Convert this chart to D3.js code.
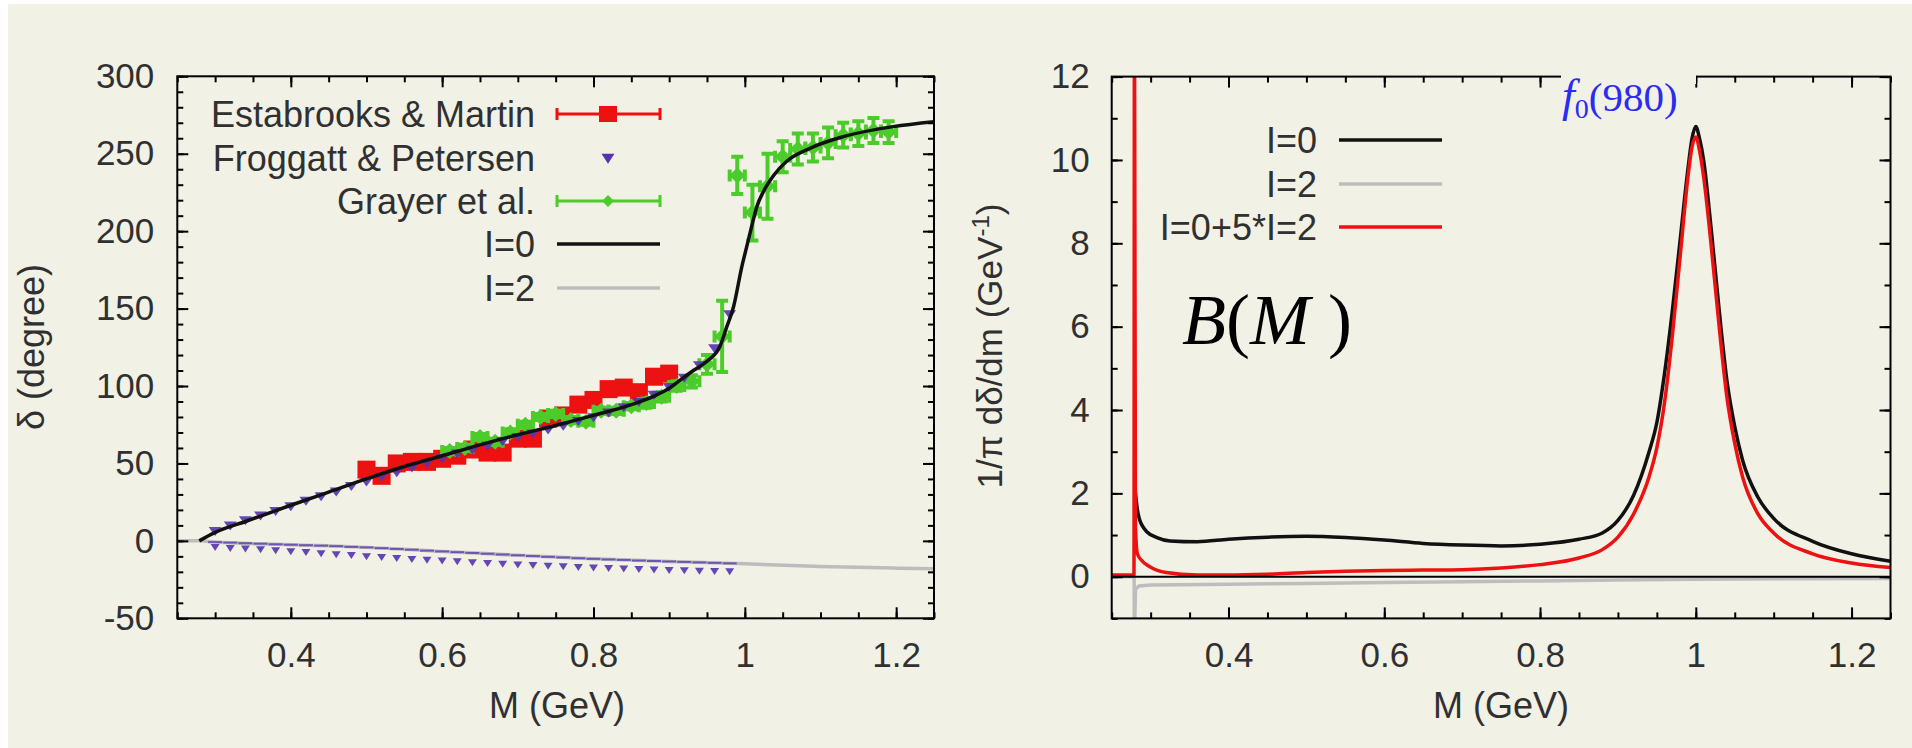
<!DOCTYPE html>
<html><head><meta charset="utf-8">
<script src="https://cdn.jsdelivr.net/npm/d3@7"></script>
<style>body{margin:0;background:#fff;overflow:hidden}</style>
</head><body>
<svg id="c" width="1912" height="748"></svg>
<script>
// ---------------- LEFT PANEL DATA (phase shift, degrees) ----------------
const xTicksMajor = [0.4, 0.6, 0.8, 1, 1.2];
const leftYTicks = [-50, 0, 50, 100, 150, 200, 250, 300];
const rightYTicks = [0, 2, 4, 6, 8, 10, 12];

// I=0 model curve
const i0Mass  = [0.279,0.30,0.34,0.40,0.45,0.50,0.55,0.60,0.65,0.70,0.75,0.80,0.85,0.88,0.90,0.915,0.932,0.95,0.967,0.976,0.985,0.996,1.0025,1.009,1.016,1.0245,1.038,1.055,1.086,1.13,1.196,1.25];
const i0Delta = [0,5.5,12.5,23,31.5,40,48,55,62,68.5,74.5,81,88,93.5,98.5,104,110,116,125.5,138,151,177,190,203,216,225.5,236,245,253.5,261,267.5,270.7];
// I=2 model curve
const i2Mass  = [0.25,0.279,0.30,0.35,0.40,0.45,0.50,0.60,0.70,0.80,0.90,1.00,1.10,1.20,1.25];
const i2Delta = [0,0,-0.8,-1.8,-2.5,-3.2,-4.2,-6.8,-9.3,-11.6,-13.3,-14.8,-16.6,-17.6,-18];

// Estabrooks & Martin
const emMass  = [0.50,0.52,0.54,0.56,0.58,0.60,0.62,0.64,0.66,0.68,0.70,0.72,0.74,0.76,0.78,0.80,0.82,0.84,0.86,0.88,0.90];
const emDelta = [46,42,50,51,51,53,55,59,57,57,66,66,79,81,88,91,98,99,96,106,108];

// Froggatt & Petersen
const fpMass    = [0.30,0.32,0.34,0.36,0.38,0.40,0.42,0.44,0.46,0.48,0.50,0.52,0.54,0.56,0.58,0.60,0.62,0.64,0.66,0.68,0.70,0.72,0.74,0.76,0.78,0.80,0.82,0.84,0.86,0.88,0.90,0.92,0.94,0.96,0.98];
const fpDeltaI0 = [7,10.5,14,17,20,23,26.5,29.5,32.5,36,39,42,45,48,51,54,57,59.5,62,65,67.5,70,72.5,75,78,80.5,83.5,87,90.5,95,100,106,114,125,147];
const fpDeltaI2 = [-3.5,-4.2,-4.5,-5.0,-5.7,-6.2,-6.8,-7.5,-8.2,-8.7,-9.5,-10,-10.6,-11.2,-11.7,-12.3,-12.8,-13.3,-13.8,-14.3,-14.8,-15.2,-15.6,-16,-16.4,-16.8,-17.1,-17.4,-17.7,-18,-18.3,-18.6,-18.8,-19,-19.2];
const fpI2Upper = [-0.8,-1.1,-1.5,-1.8,-2.2,-2.5,-2.8,-3.1,-3.4,-3.9,-4.2,-4.7,-5.2,-5.7,-6.3,-6.8,-7.3,-7.8,-8.3,-8.8,-9.3,-9.8,-10.3,-10.7,-11.2,-11.6,-12,-12.3,-12.7,-13,-13.3,-13.6,-13.9,-14.2,-14.5];

// Grayer et al.
const grMass  = [0.61,0.63,0.65,0.67,0.69,0.71,0.73,0.75,0.77,0.79,0.81,0.83,0.85,0.87,0.89,0.91,0.93,0.95,0.97,0.99,1.01,1.03,1.05,1.07,1.09,1.11,1.13,1.15,1.17,1.19];
const grDelta = [58,60,67,64,70,75,80,82,78,77,84,84,87,89,93,100,103,114,132,236,212,229,248,253,254,257,262,263,265,264];
const grErr   = [2,2,2,2,2,2,2,2,2,2,2,2,2,3,3,3,4,6,23,12,18,21,10,10,9,10,8,8,8,7];

// ---------------- RIGHT PANEL DATA (1/pi d delta/dm) ----------------
const bI0Mass = [0.2795,0.283,0.286,0.29,0.295,0.308,0.325,0.36,0.40,0.45,0.50,0.55,0.60,0.65,0.70,0.75,0.80,0.85,0.88,0.90,0.92,0.94,0.95,0.96,0.97,0.98,0.99,0.995,1.0,1.005,1.01,1.02,1.03,1.04,1.05,1.06,1.08,1.10,1.15,1.20,1.25];
const bI0Val  = [2.2,1.6,1.36,1.2,1.08,0.94,0.86,0.84,0.9,0.95,0.97,0.94,0.88,0.8,0.76,0.74,0.78,0.9,1.05,1.35,1.95,3.0,3.7,4.9,6.4,8.1,9.8,10.5,10.8,10.5,10.0,8.3,6.4,4.7,3.6,2.8,1.9,1.4,0.85,0.55,0.37];
const bI2Mass = [0.25,0.2788,0.2792,0.2805,0.285,0.30,0.40,0.50,0.60,0.70,0.80,0.90,1.00,1.10,1.25];
const bI2Val  = [0,0,-1.5,-0.3,-0.22,-0.2,-0.18,-0.16,-0.14,-0.12,-0.1,-0.08,-0.06,-0.05,-0.04];
const bMixMass = [0.25,0.2786,0.2792,0.2805,0.283,0.288,0.299,0.32,0.36,0.40,0.45,0.50,0.55,0.60,0.65,0.70,0.75,0.80,0.85,0.88,0.90,0.92,0.94,0.95,0.96,0.97,0.98,0.99,0.995,1.0,1.005,1.01,1.02,1.03,1.04,1.05,1.06,1.08,1.10,1.15,1.20,1.25];
const bMixVal  = [0.04,0.04,14,1.2,0.55,0.4,0.24,0.1,0.04,0.04,0.06,0.1,0.13,0.15,0.16,0.17,0.21,0.29,0.45,0.65,0.95,1.5,2.4,3.1,4.2,5.8,7.7,9.6,10.3,10.55,10.2,9.6,7.9,6.0,4.3,3.2,2.4,1.5,1.05,0.55,0.33,0.22];

// ---------------- DRAWING ----------------
const BG = "#f1f1e5", TXT = "#303030";
const FONT = "'Liberation Sans', Arial, Helvetica, sans-serif";
const SERIF = "'Liberation Serif', 'Times New Roman', serif";
const RED = "#ee1111", GREEN = "#4ccc2a", PURPLE = "#5533b0", GRAY = "#bdbdbd", BLACK = "#111";

const svg = d3.select("#c");
svg.append("rect").attr("x", 8).attr("y", 4).attr("width", 1904).attr("height", 744).attr("fill", BG);

const pairs = (xs, ys) => xs.map((x, i) => [x, ys[i]]);
const range = (a, b, s) => { const r = []; for (let v = a; v <= b + 1e-9; v += s) r.push(+v.toFixed(4)); return r; };

function drawFrame(g, x, y, xMinor, yMajor, yMinor, yPad) {
  const [x0, x1] = x.range(), [y0, y1] = y.range();
  const style = sel => {
    sel.select(".domain").remove();
    sel.selectAll(".tick line").attr("stroke", "#000").attr("stroke-width", 2);
    sel.selectAll("text").attr("font-family", FONT).attr("font-size", 35).attr("fill", TXT);
  };
  const fmt = d => String(d);
  g.append("g").attr("transform", `translate(0,${y0})`).call(d3.axisBottom(x).tickValues(xMinor).tickSize(-6).tickFormat("")).call(style);
  g.append("g").attr("transform", `translate(0,${y1})`).call(d3.axisTop(x).tickValues(xMinor).tickSize(-6).tickFormat("")).call(style);
  g.append("g").attr("transform", `translate(${x0},0)`).call(d3.axisLeft(y).tickValues(yMinor).tickSize(-6).tickFormat("")).call(style);
  g.append("g").attr("transform", `translate(${x1},0)`).call(d3.axisRight(y).tickValues(yMinor).tickSize(-6).tickFormat("")).call(style);
  g.append("g").attr("transform", `translate(0,${y0})`).call(d3.axisBottom(x).tickValues(xTicksMajor).tickSize(-11).tickPadding(23.5).tickFormat(fmt)).call(style);
  g.append("g").attr("transform", `translate(0,${y1})`).call(d3.axisTop(x).tickValues(xTicksMajor).tickSize(-11).tickFormat("")).call(style);
  g.append("g").attr("transform", `translate(${x0},0)`).call(d3.axisLeft(y).tickValues(yMajor).tickSize(-11).tickPadding(yPad).tickFormat(fmt)).call(style);
  g.append("g").attr("transform", `translate(${x1},0)`).call(d3.axisRight(y).tickValues(yMajor).tickSize(-11).tickFormat("")).call(style);
  g.append("rect").attr("x", x0).attr("y", y1).attr("width", x1 - x0).attr("height", y0 - y1)
    .attr("fill", "none").attr("stroke", "#000").attr("stroke-width", 2);
}

function clipFor(id, x, y) {
  const [x0, x1] = x.range(), [y0, y1] = y.range();
  svg.append("defs").append("clipPath").attr("id", id).append("rect")
    .attr("x", x0).attr("y", y1).attr("width", x1 - x0).attr("height", y0 - y1);
}

const triDown = (cx, cy, w, h) => `M${cx - w / 2},${cy - h / 3}L${cx + w / 2},${cy - h / 3}L${cx},${cy + 2 * h / 3}Z`;

// ======== LEFT PANEL ========
const xL = d3.scaleLinear().domain([0.25, 1.25]).range([177.3, 934]);
const yL = d3.scaleLinear().domain([-50, 300]).range([618.3, 76.3]);
clipFor("clipL", xL, yL);
const gL = svg.append("g");
const pL = gL.append("g").attr("clip-path", "url(#clipL)");
const lineL = d3.line().x(d => xL(d[0])).y(d => yL(d[1])).curve(d3.curveMonotoneX);

pL.append("path").attr("d", lineL(pairs(i2Mass, i2Delta))).attr("fill", "none").attr("stroke", GRAY).attr("stroke-width", 3.5);
const fpI2 = fpMass.map((m, i) => ({ m, d: fpDeltaI2[i], u: fpI2Upper[i] }));
pL.append("g").selectAll("path.ub").data(fpI2).join("path")
  .attr("d", p => `M${xL(p.m) - 7},${yL(p.u)}H${xL(p.m) + 7}`)
  .attr("stroke", PURPLE).attr("stroke-width", 2).attr("opacity", 0.75);
pL.append("g").selectAll("path.t2").data(fpI2).join("path")
  .attr("d", p => triDown(xL(p.m), yL(p.d), 9, 7)).attr("fill", PURPLE).attr("opacity", 0.9);

// Estabrooks & Martin
const em = emMass.map((m, i) => ({ m, d: emDelta[i] }));
const gEM = pL.append("g");
gEM.selectAll("path").data(em).join("path")
  .attr("d", p => `M${xL(p.m - 0.01)},${yL(p.d)}H${xL(p.m + 0.01)}`).attr("stroke", RED).attr("stroke-width", 3);
gEM.selectAll("rect").data(em).join("rect")
  .attr("x", p => xL(p.m) - 9).attr("y", p => yL(p.d) - 9).attr("width", 18).attr("height", 18).attr("fill", RED);

// Grayer et al.
const gr = grMass.map((m, i) => ({ m, d: grDelta[i], e: grErr[i] }));
const gGR = pL.append("g").attr("stroke", GREEN).attr("stroke-width", 4).attr("fill", "none");
gGR.selectAll("path.v").data(gr).join("path")
  .attr("d", p => `M${xL(p.m)},${yL(p.d - p.e)}V${yL(p.d + p.e)}M${xL(p.m) - 6},${yL(p.d - p.e)}H${xL(p.m) + 6}M${xL(p.m) - 6},${yL(p.d + p.e)}H${xL(p.m) + 6}`);
gGR.selectAll("path.h").data(gr).join("path")
  .attr("d", p => `M${xL(p.m - 0.01)},${yL(p.d)}H${xL(p.m + 0.01)}M${xL(p.m - 0.01)},${yL(p.d) - 6}V${yL(p.d) + 6}M${xL(p.m + 0.01)},${yL(p.d) - 6}V${yL(p.d) + 6}`);
pL.append("g").selectAll("path").data(gr).join("path")
  .attr("d", p => { const cx = xL(p.m), cy = yL(p.d); return `M${cx},${cy - 8}L${cx + 8},${cy}L${cx},${cy + 8}L${cx - 8},${cy}Z`; })
  .attr("fill", GREEN);

// F&P I=0 points
pL.append("g").selectAll("path").data(fpMass.map((m, i) => ({ m, d: fpDeltaI0[i] }))).join("path")
  .attr("d", p => triDown(xL(p.m), yL(p.d), 13, 9)).attr("fill", PURPLE).attr("opacity", 0.9);

pL.append("path").attr("d", lineL(pairs(i0Mass, i0Delta))).attr("fill", "none").attr("stroke", BLACK).attr("stroke-width", 3.5);

drawFrame(gL, xL, yL, range(0.25, 1.25, 0.05), leftYTicks, range(-50, 300, 10), 23);

const txt = (x, y, s, size, extra) => {
  const t = svg.append("text").attr("x", x).attr("y", y).attr("font-family", FONT).attr("font-size", size).attr("fill", TXT).text(s);
  if (extra) extra(t);
  return t;
};
txt(557, 718, "M (GeV)", 36, t => t.attr("text-anchor", "middle"));
txt(0, 0, "δ (degree)", 36, t => t.attr("text-anchor", "middle").attr("dy", "0.35em").attr("transform", "translate(31,347) rotate(-90)"));

const legL = svg.append("g").attr("font-family", FONT).attr("font-size", 36).attr("fill", TXT);
const legLRows = [
  { label: "Estabrooks & Martin", y: 114 },
  { label: "Froggatt & Petersen", y: 158 },
  { label: "Grayer et al.", y: 201 },
  { label: "I=0", y: 244 },
  { label: "I=2", y: 288 }
];
legLRows.forEach(r => legL.append("text").attr("x", 535).attr("y", r.y).attr("dy", "0.36em").attr("text-anchor", "end").text(r.label));
const sx0 = 557, sx1 = 660, sxc = 608;
legL.append("path").attr("d", `M${sx0},114H${sx1}M${sx0},108V120M${sx1},108V120`).attr("stroke", RED).attr("stroke-width", 3).attr("fill", "none");
legL.append("rect").attr("x", sxc - 9).attr("y", 106).attr("width", 18).attr("height", 16).attr("fill", RED);
legL.append("path").attr("d", triDown(sxc, 157, 13, 10)).attr("fill", PURPLE);
legL.append("path").attr("d", `M${sx0},201H${sx1}M${sx0},195V207M${sx1},195V207`).attr("stroke", GREEN).attr("stroke-width", 3).attr("fill", "none");
legL.append("path").attr("d", `M${sxc},195L${sxc + 6},201L${sxc},207L${sxc - 6},201Z`).attr("fill", GREEN);
legL.append("path").attr("d", `M${sx0},244H${sx1}`).attr("stroke", BLACK).attr("stroke-width", 3.5);
legL.append("path").attr("d", `M${sx0},288H${sx1}`).attr("stroke", GRAY).attr("stroke-width", 3.5);

// ======== RIGHT PANEL ========
const xR = d3.scaleLinear().domain([0.25, 1.25]).range([1111.7, 1890.5]);
const yR = d3.scaleLinear().domain([-1, 12]).range([618.4, 76.6]);
clipFor("clipR", xR, yR);
const gR = svg.append("g");
const pR = gR.append("g").attr("clip-path", "url(#clipR)");
const lineR = d3.line().x(d => xR(d[0])).y(d => yR(d[1]));
const lineRs = d3.line().x(d => xR(d[0])).y(d => yR(d[1])).curve(d3.curveMonotoneX);

pR.append("path").attr("d", lineR(pairs(bI2Mass, bI2Val))).attr("fill", "none").attr("stroke", GRAY).attr("stroke-width", 3.5);
pR.append("path").attr("d", lineRs(pairs(bI0Mass, bI0Val))).attr("fill", "none").attr("stroke", BLACK).attr("stroke-width", 3.5);
pR.append("path").attr("d", lineRs(pairs(bMixMass, bMixVal))).attr("fill", "none").attr("stroke", RED).attr("stroke-width", 3.5);
pR.append("path").attr("d", `M${xR(0.25)},${yR(0)}H${xR(1.25)}`).attr("stroke", "#000").attr("stroke-width", 2);

drawFrame(gR, xR, yR, range(0.25, 1.25, 0.05), rightYTicks, range(-1, 12, 1), 22);

txt(1501, 718, "M (GeV)", 36, t => t.attr("text-anchor", "middle"));
const yl = svg.append("text").attr("font-family", FONT).attr("font-size", 35).attr("fill", TXT)
  .attr("text-anchor", "middle").attr("dy", "0.35em").attr("transform", "translate(990,346) rotate(-90)");
yl.append("tspan").text("1/π dδ/dm (GeV");
yl.append("tspan").attr("font-size", 24).attr("dy", -13).text("-1");
yl.append("tspan").attr("dy", 13).text(")");

const legR = svg.append("g").attr("font-family", FONT).attr("font-size", 36).attr("fill", TXT);
[{ label: "I=0", y: 140, c: BLACK }, { label: "I=2", y: 184, c: GRAY }, { label: "I=0+5*I=2", y: 227, c: RED }].forEach(r => {
  legR.append("text").attr("x", 1317).attr("y", r.y).attr("dy", "0.36em").attr("text-anchor", "end").text(r.label);
  legR.append("path").attr("d", `M1339,${r.y}H1442`).attr("stroke", r.c).attr("stroke-width", 3.5);
});

svg.append("rect").attr("x", 1561).attr("y", 68).attr("width", 135).attr("height", 16).attr("fill", BG);
const f0 = svg.append("text").attr("x", 1562).attr("y", 111).attr("font-family", SERIF).attr("font-size", 41).attr("fill", "#2b2bf2");
f0.append("tspan").attr("font-style", "italic").attr("font-size", 46).text("f");
f0.append("tspan").attr("font-size", 28).attr("dy", 7).text("0");
f0.append("tspan").attr("dy", -7).text("(980)");

const bm = svg.append("text").attr("x", 1182).attr("y", 344).attr("font-family", SERIF).attr("font-size", 72).attr("fill", "#000");
bm.append("tspan").attr("font-style", "italic").text("B");
bm.append("tspan").text("(");
bm.append("tspan").attr("font-style", "italic").text("M");
bm.append("tspan").text(" )");
</script>
</body></html>
